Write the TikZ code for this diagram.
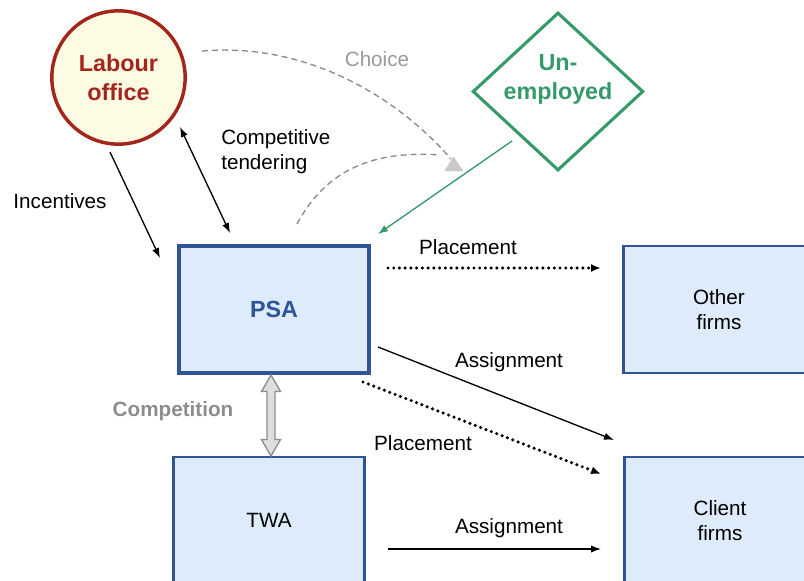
\documentclass[tikz,border=0pt]{standalone}
\usepackage{fontspec}
\setmainfont{Liberation Sans}
\usetikzlibrary{shapes.geometric,arrows.meta,calc}
\definecolor{labred}{HTML}{A3261C}
\definecolor{labfill}{HTML}{FDFBE4}
\definecolor{ugreen}{HTML}{35996A}
\definecolor{pblue}{HTML}{2F5597}
\definecolor{pfill}{HTML}{DDEBFA}
\definecolor{choicegray}{HTML}{9A9A9A}
\definecolor{dashgray}{HTML}{8A8A8A}
\definecolor{tipgray}{HTML}{C8C8C8}
\definecolor{compgray}{HTML}{8C8C8C}
\begin{document}
\begin{tikzpicture}[x=0.75pt,y=-0.75pt,
  every node/.style={font=\fontsize{15.5}{18.5}\selectfont, align=center, inner sep=0pt},
  bigbold/.style={font=\bfseries\fontsize{17.5}{21.5}\selectfont},
  firm/.style={draw=pblue, fill=pfill, line width=1.9pt, minimum width=143pt, minimum height=95pt},
  tip/.style={-{Latex[length=7.5pt,width=5.5pt]}},
  biarrow/.style={{Latex[length=7.5pt,width=5.5pt]}-{Latex[length=7.5pt,width=5.5pt]}},
  link/.style={line width=1pt},
  dots/.style={line width=2.6pt, line cap=round, dash pattern=on 0pt off 4.3pt},
  dottip/.style={-{Latex[length=7.5pt,width=6pt]}},
  choice/.style={draw=dashgray, line width=1pt, dash pattern=on 4.5pt off 3pt}
]
\clip (0,0) rectangle (804,581);

% actors
\node[circle, draw=labred, fill=labfill, line width=2.6pt, minimum size=100pt,
      bigbold, text=labred] (lab) at (118.5,77.5) {Labour\\office};
\node[diamond, draw=ugreen, line width=2.3pt, minimum width=128pt, minimum height=118.5pt,
      label={[bigbold, text=ugreen, yshift=9pt]center:{Un-\\employed}}] (unemp) at (558,91.5) {};

% agencies and firms
\node[firm, line width=3pt, text=pblue, bigbold] (psa) at (274,309.5) {PSA};
\node[firm] (twa) at (269,520.5) {TWA};
\node[firm] (other) at (719,309.5) {Other\\firms};
\node[firm] (client) at (720,520.5) {Client\\firms};

% end points of the connectors
\coordinate (inc1) at (110,152);
\coordinate (inc2) at (160,258);
\coordinate (ten1) at (180,127);
\coordinate (ten2) at (230,233);
\coordinate (ch1) at (202,51);
\coordinate (ch2) at (451,159);
\coordinate (cp1) at (297,224);
\coordinate (cp2) at (440,155);
\coordinate (un1) at (512,141);
\coordinate (un2) at (378,234);
\coordinate (pl1) at (388,268);
\coordinate (pl2) at (601,268);
\coordinate (as1) at (378,347);
\coordinate (as2) at (614,440);
\coordinate (pc1) at (363,382);
\coordinate (pc2) at (601,474);
\coordinate (at1) at (388,549);
\coordinate (at2) at (601,549);

% labour office relations
\draw[link, tip] (inc1) -- (inc2);
\node at (60,201) {Incentives};
\draw[link, biarrow] (ten1) -- (ten2);
\node[align=left, anchor=west] at (221,151.5) {Competitive\\tendering};

% choice of the unemployed
\draw[choice] (ch1) .. controls (310,42) and (400,100) .. (ch2);
\draw[choice] (cp1) .. controls (325,172) and (370,150) .. (cp2);
\fill[tipgray] (444.5,171) -- (453.5,156.5) -- (463.5,171.5) -- cycle;
\node[text=choicegray] at (377,59) {Choice};
\draw[ugreen, line width=1pt, -{Latex[length=7.5pt,width=5.5pt]}] (un1) -- (un2);

% placements and assignments
\draw[dots, dottip] (pl1) -- (pl2);
\node at (468,247) {Placement};
\draw[link, tip] (as1) -- (as2);
\node at (509,362) {Assignment};
\draw[dots, dottip] (pc1) -- (pc2);
\node at (423,443) {Placement};
\draw[link, tip] (at1) -- (at2);
\node at (509,528) {Assignment};

% competition between agencies
\draw[draw=compgray, fill=black!13, line width=1pt]
  (271,375) -- (280.5,391.5) -- (275,391.5) -- (275,439.5) -- (280.5,439.5) -- (271,456)
  -- (261.5,439.5) -- (267,439.5) -- (267,391.5) -- (261.5,391.5) -- cycle;
\node[text=compgray, font=\bfseries\fontsize{15.5}{18.5}\selectfont] at (173,411) {Competition};
\end{tikzpicture}
\end{document}
